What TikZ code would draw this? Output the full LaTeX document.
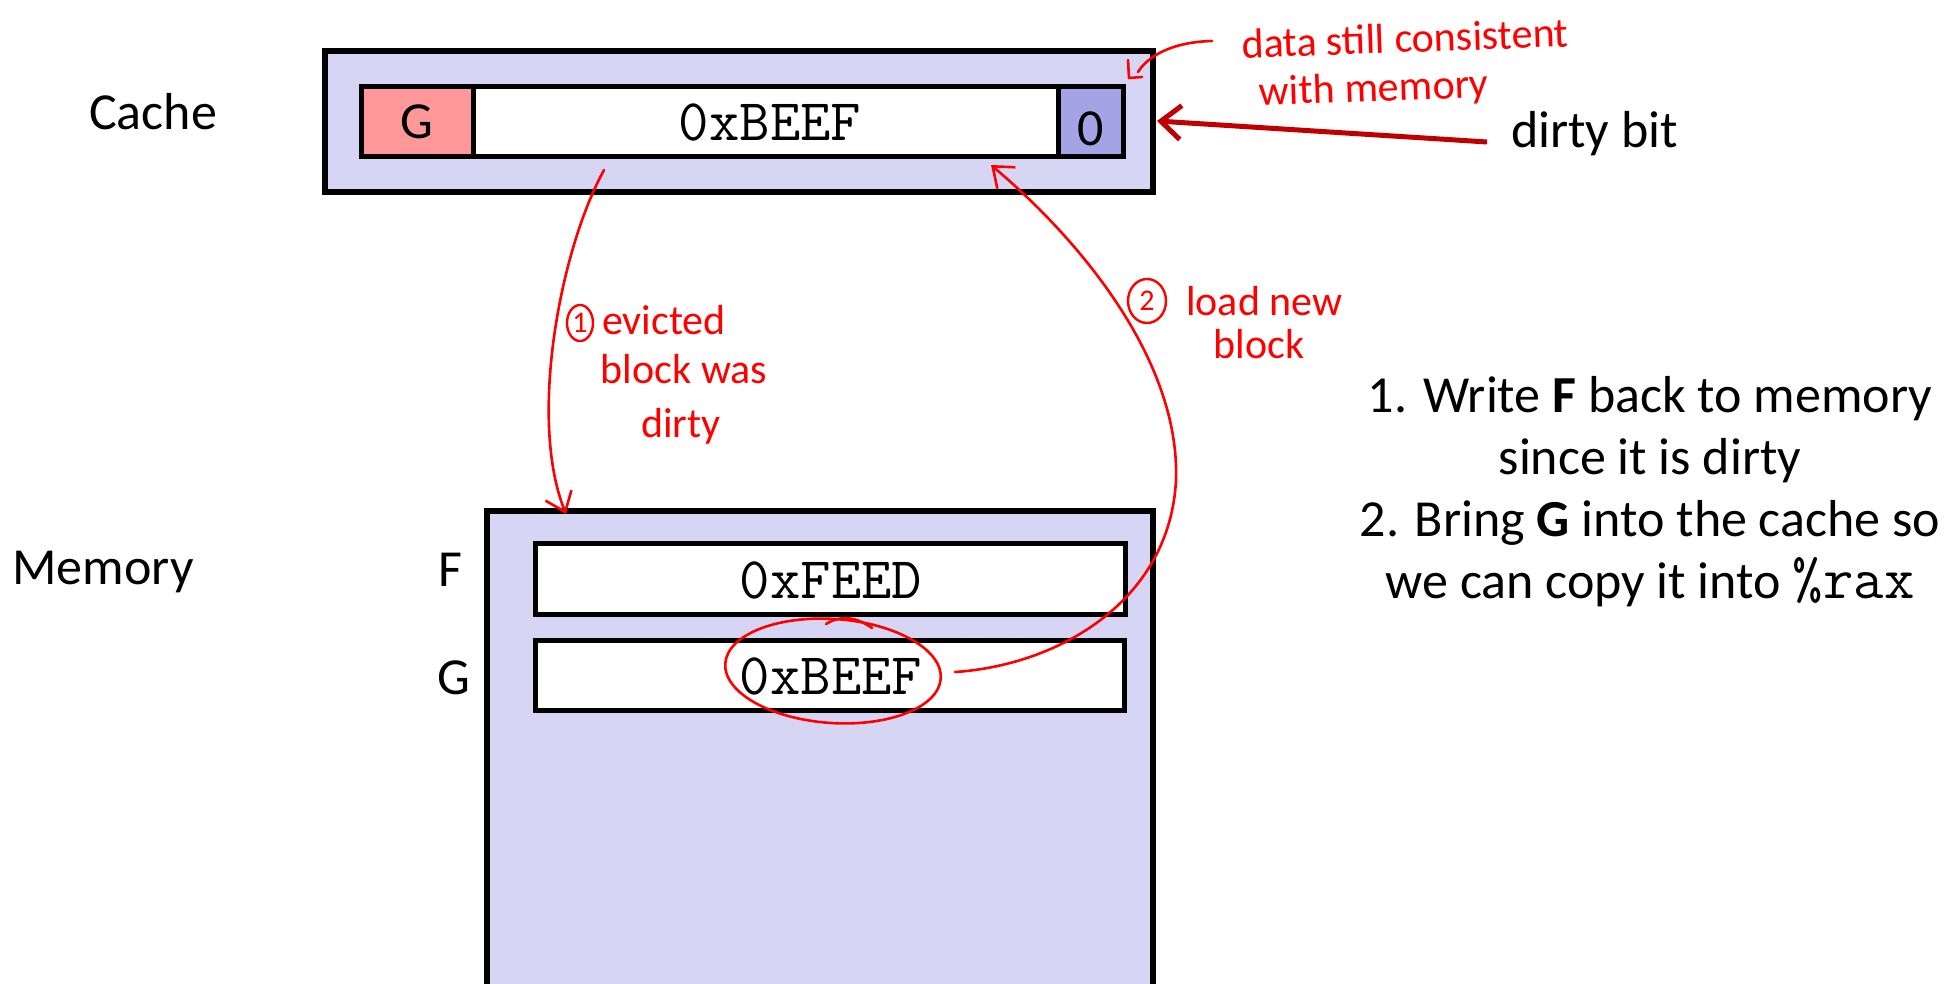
\documentclass[tikz,border=0pt]{standalone}
\usepackage{fontspec}
\setmainfont{Carlito}
\newfontfamily\penfont{Carlito}
\usetikzlibrary{arrows.meta,calc,shapes.geometric}

\definecolor{memfill}{HTML}{D6D6F4}
\definecolor{tagfill}{HTML}{FF9999}
\definecolor{bitfill}{HTML}{A3A3E6}
\definecolor{pen}{HTML}{FF0000}
\definecolor{arrowred}{HTML}{C00000}

\begin{document}
\begin{tikzpicture}[x=1pt,y=-1pt,
  frame/.style={draw=black, line width=6pt, rectangle, inner sep=0pt, outer sep=0pt, anchor=north west},
  cell/.style={frame, line width=5pt},
  lbl/.style={font=\fontsize{52}{62}\selectfont, text=black, inner sep=0pt},
  code/.style={font=\ttfamily\fontsize{59}{62}\selectfont, text=black, inner sep=0pt},
  note/.style={font=\penfont\fontsize{42}{46}\selectfont, text=pen, inner sep=0pt},
  redpen/.style={draw=pen, line width=2.6pt, line cap=round, line join=round},
  barb/.style={-{Straight Barb[length=18pt,width=28pt,line width=2.6pt]}},
  numring/.style={draw=pen, line width=2.4pt, ellipse, inner sep=0pt, text=pen,
                  font=\penfont\fontsize{30}{30}\selectfont},
]
\clip (0,0) rectangle (1950,984);
\fill[white] (0,0) rectangle (1950,984);

% ---- cache ----
\node[frame, fill=memfill, minimum width=828pt, minimum height=141pt] (cache) at (325,51) {};
\node[cell, fill=tagfill, minimum width=112pt, minimum height=70pt] (ctag) at (361,87) {};
\node[cell, fill=white, minimum width=585pt, minimum height=70pt] (cdata) at (473,87) {};
\node[cell, fill=bitfill, minimum width=65pt, minimum height=70pt] (cbit) at (1058,87) {};
\node[lbl] (ctagtxt) at (417,122) {G};
\node[code] (cdatatxt) at (770,122) {0xBEEF};
\node[lbl] (cbittxt) at (1091,129) {0};
\node[lbl] (cachelbl) at (153,112) {Cache};

% ---- dirty bit pointer ----
\node[lbl, anchor=west] (dirtylbl) at (1511,134) {dirty bit};
\coordinate (dbstart) at (1487,142);
\coordinate (dbend) at (1157,121);
\draw[arrowred, line width=5pt, -{Straight Barb[length=20pt,width=34pt,line width=5pt]}] (dbstart) -- (dbend);

% ---- memory ----
\node[frame, fill=memfill, minimum width=666pt, minimum height=540pt] (mem) at (487,511) {};
\node[cell, fill=white, minimum width=590pt, minimum height=71pt] (rowf) at (535,543) {};
\node[cell, fill=white, minimum width=589pt, minimum height=70pt] (rowg) at (535,640) {};
\node[code] (rowftxt) at (831,580) {0xFEED};
\node[code] (rowgtxt) at (831,676) {0xBEEF};
\node[lbl] (flbl) at (450,570) {F};
\node[lbl] (glbl) at (454,678) {G};
\node[lbl] (memlbl) at (103,572) {Memory};

% ---- steps ----
\node[lbl, align=center] (steps) at (1650,492) {1. Write \textbf{F} back to memory\\
  since it is dirty\\
  2. Bring \textbf{G} into the cache so\\
  we can copy it into {\ttfamily\fontsize{59}{62}\selectfont\%rax}};

% ---- pen annotations ----
\node[note, rotate=2] (consist1) at (1405,38) {data still consistent};
\node[note, rotate=2] (consist2) at (1374,90) {with memory};
\coordinate (cs) at (1212,41);
\coordinate (ce) at (1138,72);
\draw[redpen] (cs) .. controls (1172,42) and (1148,56) .. (ce);
\draw[redpen] (1128,60) -- (1129,78) -- (1142,77);

% step 1: evicted block
\coordinate (e1s) at (604,170);
\coordinate (e1e) at (566,514);
\draw[redpen, barb] (e1s) .. controls (560,250) and (528,420) .. (e1e);
\node[numring, minimum width=26pt, minimum height=36pt] (ring1) at (580,323) {1};
\node[note, anchor=west] (ev1) at (602,320) {evicted};
\node[note] (ev2) at (684,369) {block was};
\node[note] (ev3) at (681,426) {dirty};

% step 2: load new block
\draw[redpen, rotate around={-4:(833,671)}] (833,671) ellipse (108 and 52);
\draw[redpen] (826,624) .. controls (842,614) and (858,618) .. (872,628);
\coordinate (l2s) at (955,672);
\coordinate (l2e) at (991,165);
\draw[redpen, barb] (l2s) .. controls (1060,665) and (1170,600) .. (1176,480)
   .. controls (1180,360) and (1080,240) .. (l2e);
\node[numring, minimum width=38pt, minimum height=44pt] (ring2) at (1147,301) {2};
\node[note, anchor=west] (ld1) at (1186,301) {load new};
\node[note] (ld2) at (1259,344) {block};
\end{tikzpicture}
\end{document}
